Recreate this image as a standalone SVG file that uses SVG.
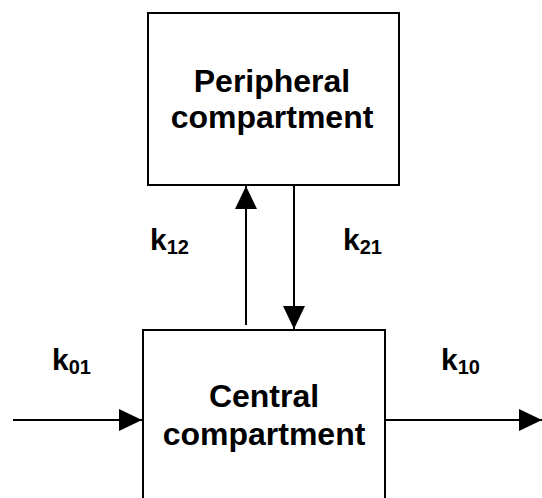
<svg xmlns="http://www.w3.org/2000/svg" width="542" height="498" viewBox="0 0 542 498">
<style>
.box{fill:#fff;stroke:#000;stroke-width:2}
.ln{stroke:#000;stroke-width:2;fill:none}
.t{font-family:"Liberation Sans",Arial,sans-serif;font-weight:bold;font-size:32px;fill:#000;text-anchor:middle}
.k{font-family:"Liberation Sans",Arial,sans-serif;font-weight:bold;font-size:30px;fill:#000}
.s{font-size:20px}
</style>
<defs>
<marker id="ah" markerUnits="userSpaceOnUse" markerWidth="24" markerHeight="24" viewBox="0 0 24 24" refX="23" refY="12" orient="auto">
<path d="M0,1 L23,12 L0,23 Z" fill="#000"/>
</marker>
</defs>
<rect width="542" height="498" fill="#fff"/>
<g id="peripheral">
<rect class="box" x="148" y="13" width="251" height="172"/>
<text class="t" x="272" y="92">Peripheral</text>
<text class="t" x="272" y="128">compartment</text>
</g>
<g id="central">
<rect class="box" x="143" y="330" width="242" height="180"/>
<text class="t" x="264" y="407">Central</text>
<text class="t" x="264" y="445">compartment</text>
</g>
<g id="connectors">
<line class="ln" x1="246" y1="325" x2="246" y2="186" marker-end="url(#ah)"/>
<line class="ln" x1="294" y1="186" x2="294" y2="329" marker-end="url(#ah)"/>
<line class="ln" x1="13" y1="420" x2="142" y2="420" marker-end="url(#ah)"/>
<line class="ln" x1="386" y1="420" x2="542" y2="420" marker-end="url(#ah)"/>
</g>
<g id="labels">
<text class="k" x="150" y="250">k<tspan class="s" dy="4">12</tspan></text>
<text class="k" x="343" y="250">k<tspan class="s" dy="4">21</tspan></text>
<text class="k" x="52" y="370">k<tspan class="s" dy="4">01</tspan></text>
<text class="k" x="441" y="370">k<tspan class="s" dy="4">10</tspan></text>
</g>
</svg>
